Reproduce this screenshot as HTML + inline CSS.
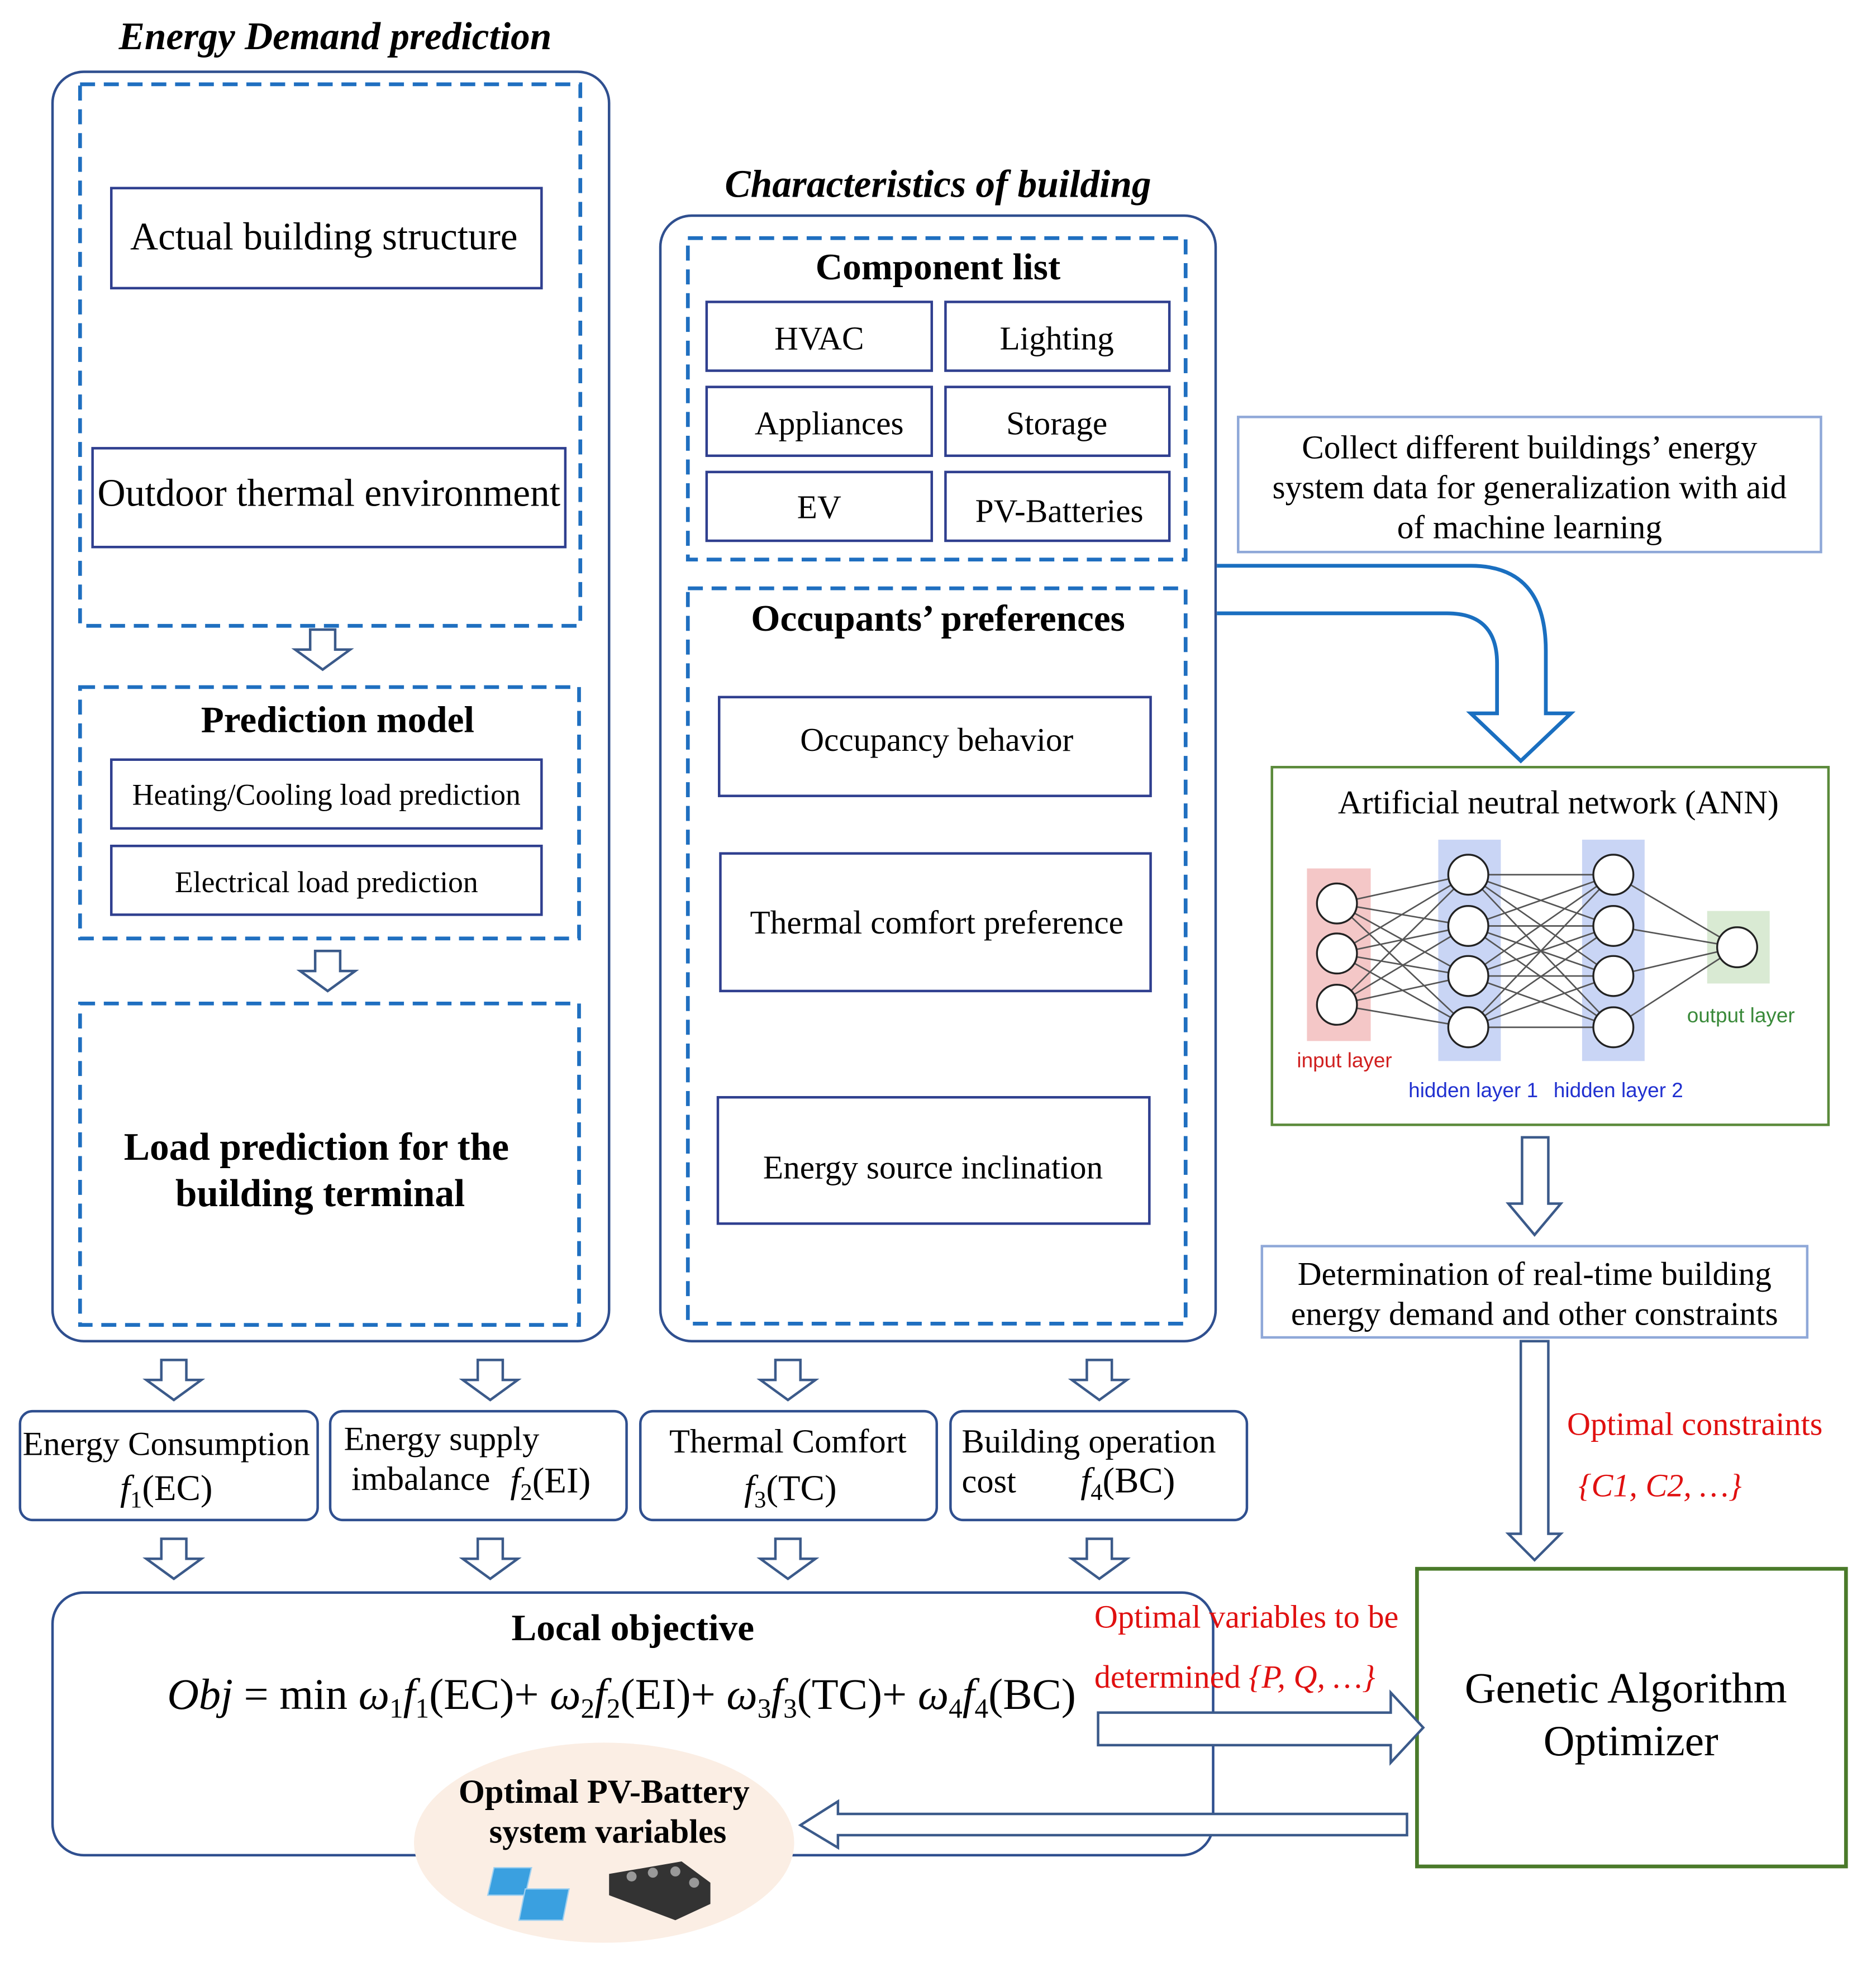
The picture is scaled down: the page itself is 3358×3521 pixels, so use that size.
<!DOCTYPE html>
<html><head><meta charset="utf-8"><style>
html,body{margin:0;padding:0;background:#fff;}
svg{display:block;}
text{font-family:"Liberation Serif",serif;fill:#000;}
.s{font-family:"Liberation Sans",sans-serif;}
</style></head><body>
<svg width="3358" height="3521" viewBox="0 0 1500 1572" xmlns="http://www.w3.org/2000/svg">
<defs>
<g id="da"><polygon points="-10,0 10,0 10,16 22,16 0,32 -22,16 -10,16" fill="#fff" stroke="#3b5a8a" stroke-width="2"/></g>
</defs>
<rect width="1500" height="1572" fill="#fff"/>

<!-- Left column -->
<text x="268" y="39" font-size="31" font-weight="bold" font-style="italic" text-anchor="middle">Energy Demand prediction</text>
<rect x="42" y="57" width="445" height="1015" rx="25" fill="none" stroke="#2f4f8f" stroke-width="2"/>
<g fill="none" stroke="#1f6fc0" stroke-width="3" stroke-dasharray="12,7">
<rect x="64" y="67" width="400" height="433"/>
<rect x="64" y="549" width="399" height="201"/>
<rect x="64" y="802" width="399" height="257"/>
<rect x="550" y="190" width="398" height="257"/>
<rect x="550" y="470" width="398" height="588"/>
</g>
<g fill="#fff" stroke="#2f3f8f" stroke-width="2">
<rect x="89" y="150" width="344" height="80"/>
<rect x="74" y="358" width="378" height="79"/>
<rect x="89" y="607" width="344" height="55"/>
<rect x="89" y="676" width="344" height="55"/>
</g>
<text x="259" y="199" font-size="31" text-anchor="middle">Actual building structure</text>
<text x="263" y="404" font-size="31" text-anchor="middle">Outdoor thermal environment</text>
<use href="#da" x="258" y="503"/>
<text x="270" y="585" font-size="30" font-weight="bold" text-anchor="middle">Prediction model</text>
<text x="261" y="643" font-size="24" text-anchor="middle">Heating/Cooling load prediction</text>
<text x="261" y="713" font-size="24" text-anchor="middle">Electrical load prediction</text>
<use href="#da" x="262" y="760"/>
<text x="253" y="927" font-size="31" font-weight="bold" text-anchor="middle">Load prediction for the</text>
<text x="256" y="964" font-size="31" font-weight="bold" text-anchor="middle">building terminal</text>

<!-- Middle column -->
<text x="750" y="157" font-size="31" font-weight="bold" font-style="italic" text-anchor="middle">Characteristics of building</text>
<rect x="528" y="172" width="444" height="900" rx="25" fill="none" stroke="#2f4f8f" stroke-width="2"/>
<text x="750" y="223" font-size="30" font-weight="bold" text-anchor="middle">Component list</text>
<g fill="#fff" stroke="#2f3f8f" stroke-width="2">
<rect x="565" y="241" width="180" height="55"/><rect x="756" y="241" width="179" height="55"/>
<rect x="565" y="309" width="180" height="55"/><rect x="756" y="309" width="179" height="55"/>
<rect x="565" y="377" width="180" height="55"/><rect x="756" y="377" width="179" height="55"/>
<rect x="575" y="557" width="345" height="79"/>
<rect x="576" y="682" width="344" height="110"/>
<rect x="574" y="877" width="345" height="101"/>
</g>
<g font-size="26.5" text-anchor="middle">
<text x="655" y="279">HVAC</text><text x="845" y="279">Lighting</text>
<text x="663" y="347">Appliances</text><text x="845" y="347">Storage</text>
<text x="655" y="414">EV</text><text x="847" y="417">PV-Batteries</text>
<text x="749" y="600">Occupancy behavior</text>
<text x="749" y="746">Thermal comfort preference</text>
<text x="746" y="942">Energy source inclination</text>
</g>
<text x="750" y="504" font-size="30" font-weight="bold" text-anchor="middle">Occupants’ preferences</text>

<!-- Right column -->
<rect x="990" y="333" width="466" height="108" fill="#fff" stroke="#8fa8d8" stroke-width="2"/>
<g font-size="26.5" text-anchor="middle">
<text x="1223" y="366">Collect different buildings’ energy</text>
<text x="1223" y="398">system data for generalization with aid</text>
<text x="1223" y="430">of machine learning</text>
</g>
<path d="M973,452 L1176,452 Q1236,452 1236,520 L1236,570 L1256,570 L1216,608 L1176,570 L1197,570 L1197,530 Q1197,490 1157,490 L973,490" fill="#fff" stroke="#1a6fc0" stroke-width="3"/>

<rect x="1017" y="613" width="445" height="286" fill="#fff" stroke="#5a8a3a" stroke-width="2"/>
<text x="1246" y="650" font-size="26.5" text-anchor="middle">Artificial neutral network (ANN)</text>
<rect x="1045" y="694" width="51" height="138" fill="#f4c7c7"/>
<rect x="1150" y="671" width="50" height="177" fill="#c9d5f5"/>
<rect x="1265" y="671" width="50" height="177" fill="#c9d5f5"/>
<rect x="1365" y="728" width="50" height="58" fill="#d9ead3"/>
<g stroke="#555" stroke-width="1.2">
<path d="M1069,722L1174,699M1069,722L1174,740M1069,722L1174,780M1069,722L1174,821M1069,762L1174,699M1069,762L1174,740M1069,762L1174,780M1069,762L1174,821M1069,803L1174,699M1069,803L1174,740M1069,803L1174,780M1069,803L1174,821"/>
<path d="M1174,699L1290,699M1174,699L1290,740M1174,699L1290,780M1174,699L1290,821M1174,740L1290,699M1174,740L1290,740M1174,740L1290,780M1174,740L1290,821M1174,780L1290,699M1174,780L1290,740M1174,780L1290,780M1174,780L1290,821M1174,821L1290,699M1174,821L1290,740M1174,821L1290,780M1174,821L1290,821"/>
<path d="M1290,699L1389,757M1290,740L1389,757M1290,780L1389,757M1290,821L1389,757"/>
</g>
<g fill="#fff" stroke="#222" stroke-width="1.5">
<circle cx="1069" cy="722" r="16"/><circle cx="1069" cy="762" r="16"/><circle cx="1069" cy="803" r="16"/>
<circle cx="1174" cy="699" r="16"/><circle cx="1174" cy="740" r="16"/><circle cx="1174" cy="780" r="16"/><circle cx="1174" cy="821" r="16"/>
<circle cx="1290" cy="699" r="16"/><circle cx="1290" cy="740" r="16"/><circle cx="1290" cy="780" r="16"/><circle cx="1290" cy="821" r="16"/>
<circle cx="1389" cy="757" r="16"/>
</g>
<g class="s" font-size="16.5" text-anchor="middle">
<text class="s" x="1075" y="853" style="fill:#d02020">input layer</text>
<text class="s" x="1178" y="877" style="fill:#2030d0">hidden layer 1</text>
<text class="s" x="1294" y="877" style="fill:#2030d0">hidden layer 2</text>
<text class="s" x="1392" y="817" style="fill:#3a8a3a">output layer</text>
</g>

<polygon points="1217,909 1238,909 1238,962 1248,962 1227,987 1206,962 1217,962" fill="#fff" stroke="#3b5a8a" stroke-width="2"/>
<rect x="1009" y="996" width="436" height="73" fill="#fff" stroke="#8fa8d8" stroke-width="2"/>
<text x="1227" y="1027" font-size="26.5" text-anchor="middle">Determination of real-time building</text>
<text x="1227" y="1059" font-size="26.5" text-anchor="middle">energy demand and other constraints</text>
<polygon points="1216,1072 1238,1072 1238,1226 1248,1226 1227,1247 1206,1226 1216,1226" fill="#fff" stroke="#3b5a8a" stroke-width="2"/>
<text x="1253" y="1147" font-size="26" style="fill:#e01010">Optimal constraints</text>
<text x="1262" y="1196" font-size="26" font-style="italic" style="fill:#e01010">{C1, C2, …}</text>

<rect x="1133" y="1254" width="343" height="238" fill="#fff" stroke="#4a7a2a" stroke-width="3"/>
<text x="1300" y="1361" font-size="34.5" text-anchor="middle">Genetic Algorithm</text>
<text x="1304" y="1403" font-size="34.5" text-anchor="middle">Optimizer</text>

<!-- Objectives row -->
<g fill="#fff" stroke="#2f4f8f" stroke-width="2">
<rect x="16" y="1128" width="238" height="87" rx="10"/>
<rect x="264" y="1128" width="237" height="87" rx="10"/>
<rect x="512" y="1128" width="237" height="87" rx="10"/>
<rect x="760" y="1128" width="237" height="87" rx="10"/>
</g>
<use href="#da" x="139" y="1087"/><use href="#da" x="392" y="1087"/><use href="#da" x="630" y="1087"/><use href="#da" x="879" y="1087"/>
<use href="#da" x="139" y="1230"/><use href="#da" x="392" y="1230"/><use href="#da" x="630" y="1230"/><use href="#da" x="879" y="1230"/>
<g font-size="27">
<text x="133" y="1163" text-anchor="middle">Energy Consumption</text>
<text x="133" y="1199" text-anchor="middle" font-size="29"><tspan font-style="italic">f</tspan><tspan font-size="19" dy="6">1</tspan><tspan dy="-6">(EC)</tspan></text>
<text x="275" y="1159">Energy supply</text>
<text x="281" y="1191">imbalance</text>
<text x="408" y="1193" font-size="29"><tspan font-style="italic">f</tspan><tspan font-size="19" dy="6">2</tspan><tspan dy="-6">(EI)</tspan></text>
<text x="630" y="1161" text-anchor="middle">Thermal Comfort</text>
<text x="632" y="1199" text-anchor="middle" font-size="29"><tspan font-style="italic">f</tspan><tspan font-size="19" dy="6">3</tspan><tspan dy="-6">(TC)</tspan></text>
<text x="769" y="1161">Building operation</text>
<text x="769" y="1193">cost</text>
<text x="864" y="1193" font-size="29"><tspan font-style="italic">f</tspan><tspan font-size="19" dy="6">4</tspan><tspan dy="-6">(BC)</tspan></text>
</g>

<!-- Local objective -->
<rect x="42" y="1273" width="928" height="210" rx="25" fill="none" stroke="#2f4f8f" stroke-width="2"/>
<text x="506" y="1311" font-size="30" font-weight="bold" text-anchor="middle">Local objective</text>
<text x="497" y="1366" font-size="35" text-anchor="middle"><tspan font-style="italic">Obj</tspan> = min <tspan font-style="italic">ω</tspan><tspan font-size="22" dy="7">1</tspan><tspan dy="-7" font-style="italic">f</tspan><tspan font-size="22" dy="7">1</tspan><tspan dy="-7">(EC)+ </tspan><tspan font-style="italic">ω</tspan><tspan font-size="22" dy="7">2</tspan><tspan dy="-7" font-style="italic">f</tspan><tspan font-size="22" dy="7">2</tspan><tspan dy="-7">(EI)+ </tspan><tspan font-style="italic">ω</tspan><tspan font-size="22" dy="7">3</tspan><tspan dy="-7" font-style="italic">f</tspan><tspan font-size="22" dy="7">3</tspan><tspan dy="-7">(TC)+ </tspan><tspan font-style="italic">ω</tspan><tspan font-size="22" dy="7">4</tspan><tspan dy="-7" font-style="italic">f</tspan><tspan font-size="22" dy="7">4</tspan><tspan dy="-7">(BC)</tspan></text>
<text x="875" y="1301" font-size="26" style="fill:#e01010">Optimal variables to be</text>
<text x="875" y="1349" font-size="26" style="fill:#e01010">determined <tspan font-style="italic">{P, Q, …}</tspan></text>
<polygon points="878,1369 1112,1369 1112,1353 1138,1381 1112,1409 1112,1395 878,1395" fill="#fff" stroke="#3b5a8a" stroke-width="2"/>
<ellipse cx="483" cy="1473" rx="152" ry="80" fill="#fbeee4"/>
<polygon points="1125,1450 670,1450 670,1440 640,1459 670,1477 670,1467 1125,1467" fill="#fff" stroke="#3b5a8a" stroke-width="2"/>
<text x="483" y="1441" font-size="27" font-weight="bold" text-anchor="middle">Optimal PV-Battery</text>
<text x="486" y="1473" font-size="27" font-weight="bold" text-anchor="middle">system variables</text>
<g>
<polygon points="395,1493 425,1493 420,1515 390,1515" fill="#3aa0e0" stroke="#9fd0f0"/>
<polygon points="420,1510 455,1510 450,1535 415,1535" fill="#3aa0e0" stroke="#9fd0f0"/>
<polygon points="487,1498 545,1488 568,1505 568,1522 540,1535 487,1515" fill="#333"/>
<circle cx="505" cy="1500" r="4" fill="#999"/><circle cx="522" cy="1497" r="4" fill="#999"/><circle cx="540" cy="1496" r="4" fill="#999"/><circle cx="555" cy="1505" r="4" fill="#999"/>
</g>
</svg>
</body></html>
